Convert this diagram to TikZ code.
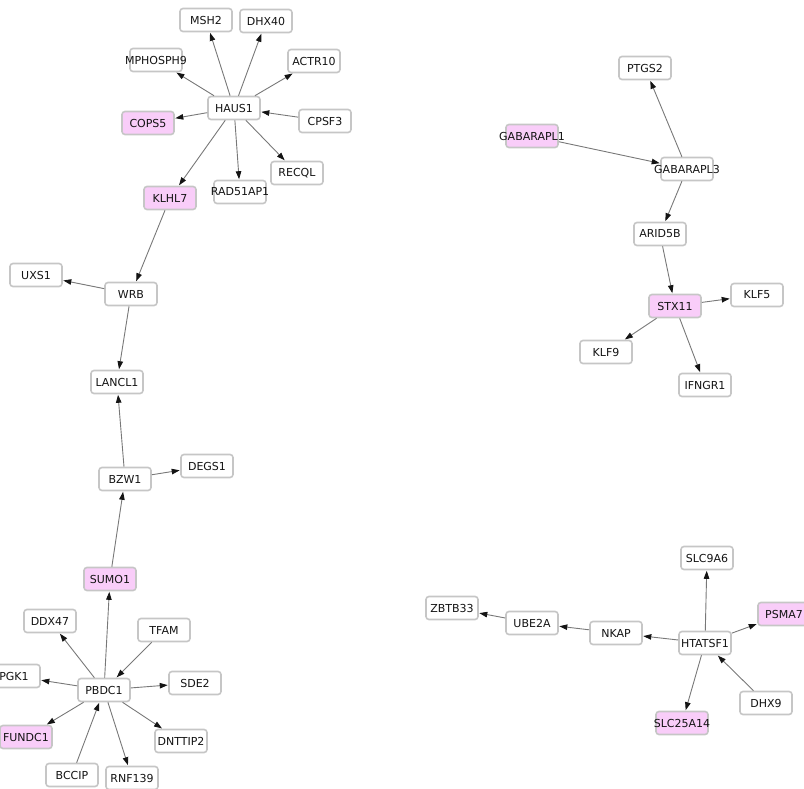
\documentclass[tikz,border=0pt]{standalone}
\usepackage{fontspec}
\setmainfont{DejaVu Sans}
\usetikzlibrary{arrows.meta}
\definecolor{nodeborder}{RGB}{198,198,198}
\definecolor{pinkfill}{RGB}{249,205,249}
\definecolor{edgegray}{RGB}{120,120,120}
\definecolor{tipcol}{RGB}{20,20,20}
\tikzset{
  gene/.style={draw=nodeborder, line width=1.6pt, rounded corners=3pt, fill=white,
    minimum width=52pt, minimum height=23pt, inner sep=0pt, text=black!92,
    font=\fontsize{11}{13}\selectfont},
  hit/.style={gene, fill=pinkfill},
  link/.style={draw=edgegray, line width=0.9pt,
    -{Triangle[length=8pt,width=5.5pt,color=tipcol]}, shorten >=0.5pt}
}
\newcommand{\gn}[4][gene]{\node[#1] (#2) at (#3) {\makebox[0pt]{#4}};}
\begin{document}
\begin{tikzpicture}[x=1pt,y=-1pt]
\useasboundingbox (0,0) rectangle (804,789);
% cluster 1
\gn{HAUS1}{234,108}{HAUS1}
\gn{MSH2}{206,20}{MSH2}
\gn{DHX40}{266,21}{DHX40}
\gn{MPHOSPH9}{156,60}{MPHOSPH9}
\gn{ACTR10}{314,61}{ACTR10}
\gn[hit]{COPS5}{148,123}{COPS5}
\gn{CPSF3}{325,121}{CPSF3}
\gn{RECQL}{297,173}{RECQL}
\gn{RAD51AP1}{240,192}{RAD51AP1}
\gn[hit]{KLHL7}{170,198}{KLHL7}
\gn{WRB}{131,294}{WRB}
\gn{UXS1}{36,275}{UXS1}
\gn{LANCL1}{117,382}{LANCL1}
\gn{BZW1}{125,479}{BZW1}
\gn{DEGS1}{207,466}{DEGS1}
\gn[hit]{SUMO1}{110,579}{SUMO1}
\gn{PBDC1}{104,690}{PBDC1}
\gn{DDX47}{50,621}{DDX47}
\gn{TFAM}{164,630}{TFAM}
\gn{PGK1}{14,676}{PGK1}
\gn{SDE2}{195,683}{SDE2}
\gn[hit]{FUNDC1}{26,737}{FUNDC1}
\gn{DNTTIP2}{181,741}{DNTTIP2}
\gn{BCCIP}{72,775}{BCCIP}
\gn{RNF139}{132,778}{RNF139}
% cluster 2
\gn{GABARAPL3}{687,169}{GABARAPL3}
\gn{PTGS2}{645,68}{PTGS2}
\gn[hit]{GABARAPL1}{532,136}{GABARAPL1}
\gn{ARID5B}{660,234}{ARID5B}
\gn[hit]{STX11}{675,306}{STX11}
\gn{KLF5}{757,295}{KLF5}
\gn{KLF9}{606,352}{KLF9}
\gn{IFNGR1}{705,385}{IFNGR1}
% cluster 3
\gn{HTATSF1}{705,643}{HTATSF1}
\gn{SLC9A6}{707,558}{SLC9A6}
\gn[hit]{PSMA7}{784,614}{PSMA7}
\gn{NKAP}{616,633}{NKAP}
\gn{UBE2A}{532,623}{UBE2A}
\gn{ZBTB33}{452,608}{ZBTB33}
\gn{DHX9}{766,703}{DHX9}
\gn[hit]{SLC25A14}{682,723}{SLC25A14}
% edges
\foreach \a/\b in {HAUS1/MSH2, HAUS1/DHX40, HAUS1/MPHOSPH9, HAUS1/ACTR10, HAUS1/COPS5,
  CPSF3/HAUS1, HAUS1/RECQL, HAUS1/RAD51AP1, HAUS1/KLHL7, KLHL7/WRB, WRB/UXS1, WRB/LANCL1,
  BZW1/LANCL1, BZW1/DEGS1, SUMO1/BZW1, PBDC1/SUMO1, PBDC1/DDX47, TFAM/PBDC1, PBDC1/PGK1,
  PBDC1/SDE2, PBDC1/FUNDC1, PBDC1/DNTTIP2, BCCIP/PBDC1, PBDC1/RNF139,
  GABARAPL1/GABARAPL3, GABARAPL3/PTGS2, GABARAPL3/ARID5B, ARID5B/STX11, STX11/KLF5,
  STX11/KLF9, STX11/IFNGR1,
  HTATSF1/SLC9A6, HTATSF1/PSMA7, HTATSF1/NKAP, NKAP/UBE2A, UBE2A/ZBTB33, DHX9/HTATSF1,
  HTATSF1/SLC25A14}
  \draw[link] (\a) -- (\b);
\end{tikzpicture}
\end{document}
